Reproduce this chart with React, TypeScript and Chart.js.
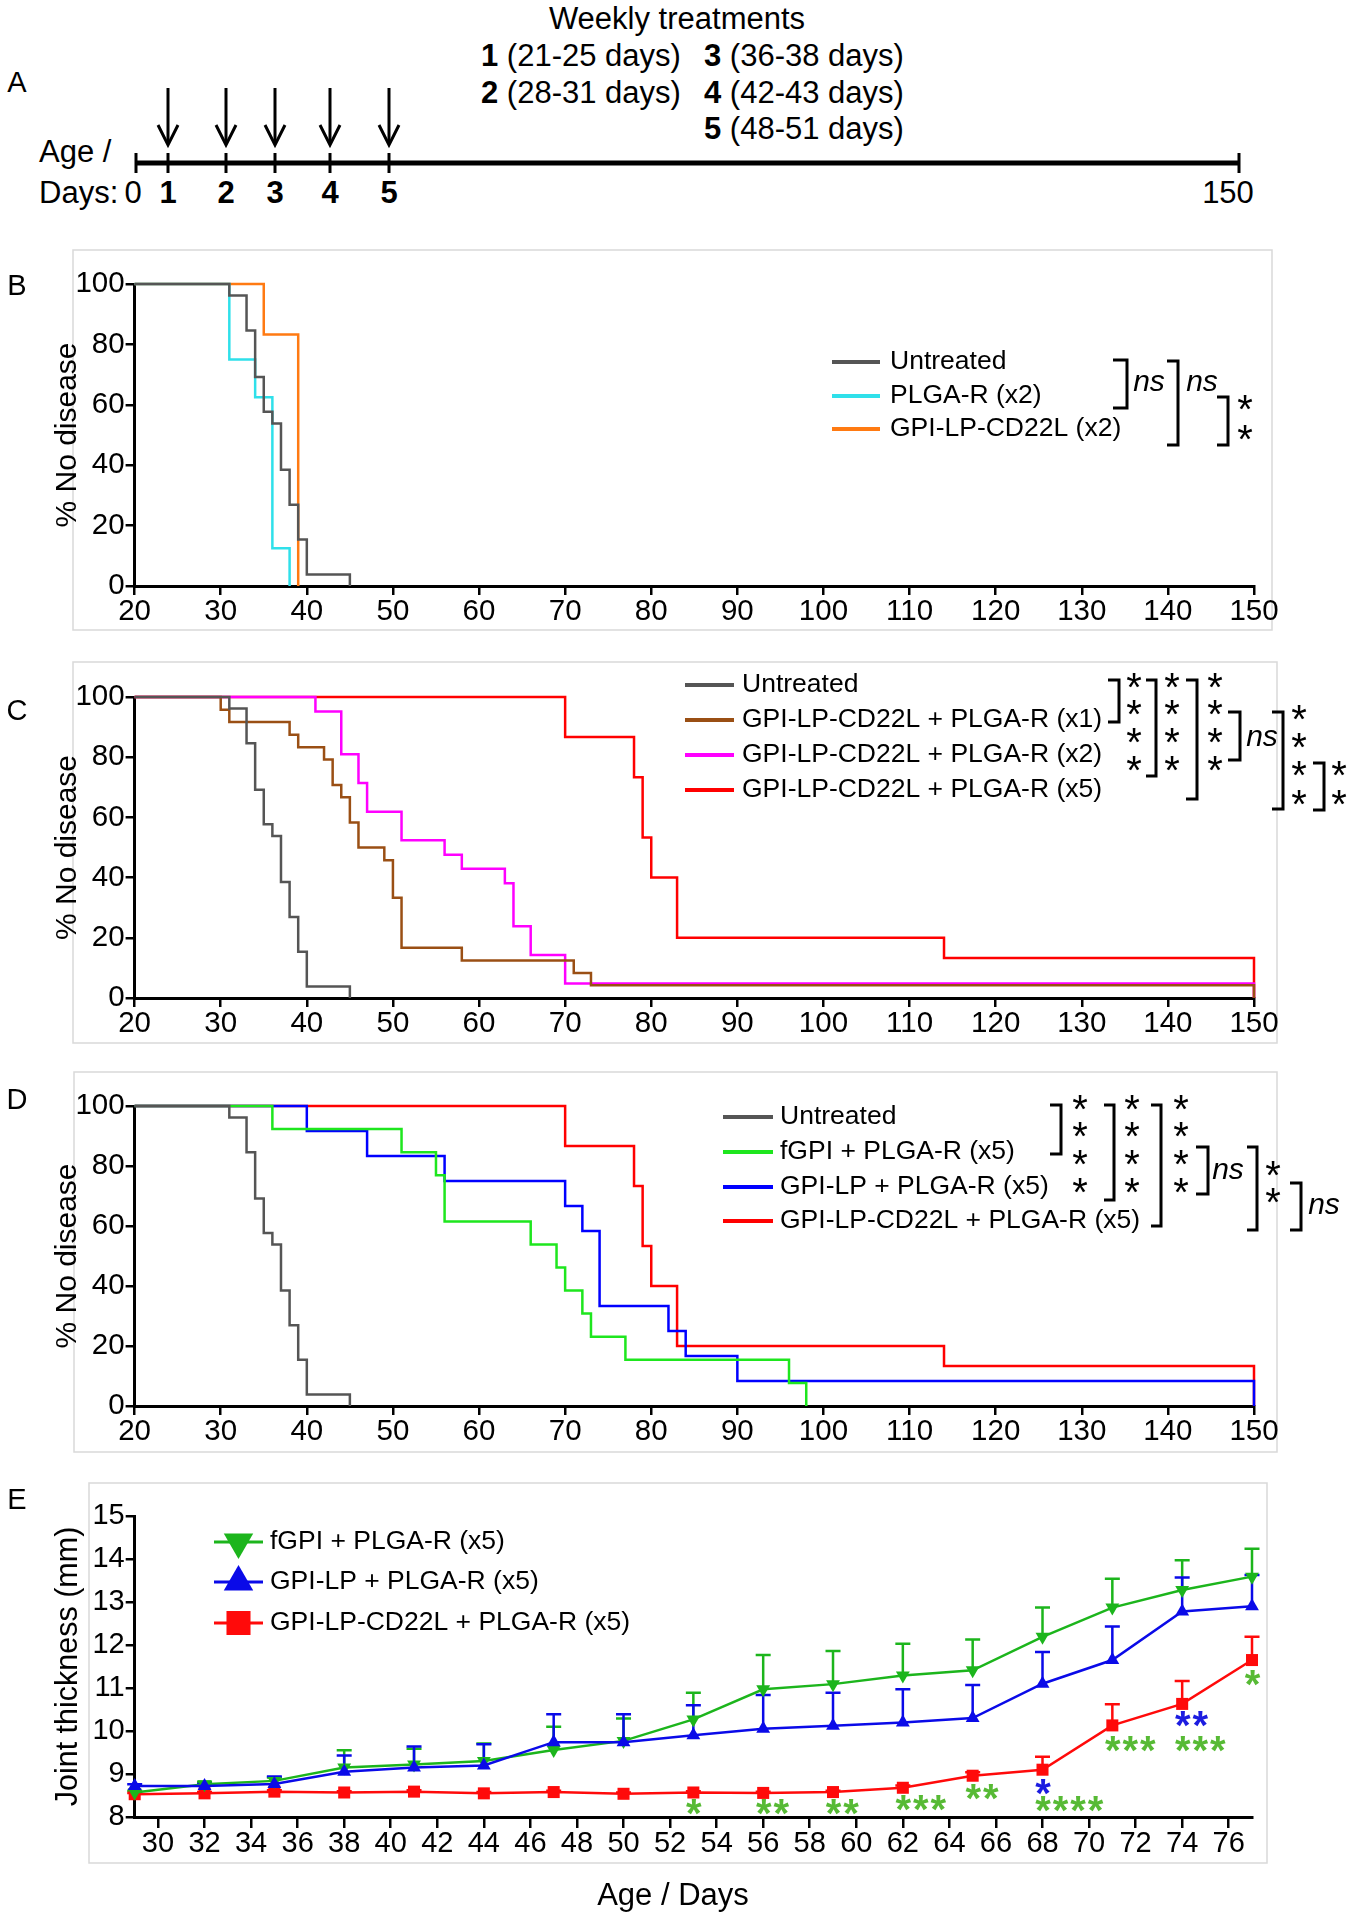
import React, { useEffect, useRef } from "react";
import { Chart, registerables } from "chart.js";

Chart.register(...registerables);

const FONT = "'Liberation Sans', Arial, Helvetica, sans-serif";
Chart.defaults.font.family = FONT;
Chart.defaults.color = "#000";

const PAGE_W = 1354;

// ---------------- Data: Kaplan–Meier steps (age in days, % no disease) ----------------
const untreatedDays = [20, 31, 33, 34, 35, 36, 37, 38, 39, 40, 45];
const untreatedPct = [100, 96.2, 84.6, 69.2, 57.7, 53.8, 38.5, 26.9, 15.4, 3.8, 0];

const plgaX2Days = [20, 31, 34, 36, 38];
const plgaX2Pct = [100, 75, 62.5, 12.5, 0];

const cd22X2Days = [20, 35, 39];
const cd22X2Pct = [100, 83.3, 0];

const comboX1Days = [20, 30, 31, 38, 39, 42, 43, 44, 45, 46, 49, 50, 51, 58, 71, 73, 150];
const comboX1Pct = [100, 95.8, 91.7, 87.5, 83.3, 79.2, 70.8, 66.7, 58.3, 50, 45.8, 33.3, 16.7, 12.5, 8.3, 4.2, 0];

const comboX2Days = [20, 41, 44, 46, 47, 51, 56, 58, 63, 64, 66, 70, 150];
const comboX2Pct = [100, 95.2, 81.0, 71.4, 61.9, 52.4, 47.6, 42.9, 38.1, 23.8, 14.3, 4.8, 0];

const comboX5Days = [20, 70, 78, 79, 80, 83, 114, 150];
const comboX5Pct = [100, 86.7, 73.3, 53.3, 40, 20, 13.3, 0];

const fgpiDays = [20, 36, 51, 55, 56, 66, 69, 70, 72, 73, 77, 96, 98];
const fgpiPct = [100, 92.3, 84.6, 76.9, 61.5, 53.8, 46.2, 38.5, 30.8, 23.1, 15.4, 7.7, 0];

const gpilpDays = [20, 40, 47, 56, 70, 72, 74, 82, 84, 90, 150];
const gpilpPct = [100, 91.7, 83.3, 75, 66.7, 58.3, 33.3, 25, 16.7, 8.3, 0];

// ---------------- Data: panel E joint thickness (mm) ----------------
const eDays = [29, 32, 35, 38, 41, 44, 47, 50, 53, 56, 59, 62, 65, 68, 71, 74, 77];
const eFgpi = [8.57, 8.76, 8.84, 9.15, 9.22, 9.3, 9.56, 9.77, 10.27, 10.97, 11.09, 11.29, 11.41, 12.19, 12.87, 13.28, 13.59];
const eFgpiErr = [0.04, 0.06, 0.08, 0.4, 0.37, 0.41, 0.54, 0.52, 0.62, 0.8, 0.77, 0.74, 0.72, 0.68, 0.67, 0.69, 0.65];
const eGpilp = [8.72, 8.72, 8.77, 9.05, 9.15, 9.2, 9.74, 9.74, 9.9, 10.05, 10.12, 10.2, 10.3, 11.1, 11.65, 12.78, 12.9];
const eGpilpErr = [0.04, 0.05, 0.17, 0.38, 0.49, 0.49, 0.65, 0.65, 0.7, 0.79, 0.77, 0.77, 0.77, 0.74, 0.78, 0.79, 0.73];
const eCd22 = [8.53, 8.55, 8.59, 8.57, 8.59, 8.55, 8.58, 8.54, 8.57, 8.56, 8.58, 8.68, 8.96, 9.1, 10.13, 10.63, 11.65];
const eCd22Err = [0.03, 0.03, 0.03, 0.03, 0.03, 0.03, 0.03, 0.03, 0.03, 0.03, 0.03, 0.05, 0.08, 0.3, 0.49, 0.53, 0.54];
const eXTicks = [30, 32, 34, 36, 38, 40, 42, 44, 46, 48, 50, 52, 54, 56, 58, 60, 62, 64, 66, 68, 70, 72, 74, 76];

// significance marks in panel E (day, level in mm, number of stars, group)
const eStarDays = [53, 56, 59, 62, 65, 68, 71, 74, 77, 68, 74];
const eStarLevel = [8.23, 8.23, 8.23, 8.33, 8.58, 8.31, 9.69, 9.69, 11.24, 8.7, 10.27];
const eStarCount = [1, 2, 2, 3, 2, 4, 3, 3, 1, 1, 2];
const eStarGroup = ["g", "g", "g", "g", "g", "g", "g", "g", "g", "b", "b"];

// Panel A schematic
const timelineLabels = ["0", "1", "2", "3", "4", "5", "150"];
const treatmentNums = ["1", "2", "3", "4", "5"];
const treatmentRanges = ["(21-25 days)", "(28-31 days)", "(36-38 days)", "(42-43 days)", "(48-51 days)"];

// ---------------- Styles ----------------
const GRAY = "#555555";
const CYAN = "#2fe0ea";
const ORANGE = "#ff7a12";
const BROWN = "#9a4f14";
const MAGENTA = "#ff00ff";
const RED = "#ff0000";
const LIME = "#1ee61e";
const BLUE = "#0000ff";
const E_GREEN = "#1cb51c";
const E_BLUE = "#0a0ae8";
const E_RED = "#ff0a0a";
const STAR_GREEN = "#57ba35";
const STAR_BLUE = "#1c1ce0";
const BOX_COLOR = "#d9d9d9";

const TICK_SIZE = 29.5;
const TITLE_SIZE = 30;
const LEGEND_SIZE = 26.5;
const A_SIZE = 31;

type Pt = [number, number];
type Bracket = [number, number, number, number]; // vertical x, arm end x, top y, bottom y

interface Decor {
  canvasTop: number;
  box: [number, number, number, number];
  letter: string;
  letterPos: Pt;
  legend?: { x1: number; x2: number; textX: number; rows: number[]; fontSize: number; lineWidth: number; markerR?: number };
  brackets: Bracket[];
  stars: Pt[];
  ns: Pt[];
}

function drawMarker(ctx: any, style: string, rotDeg: number, x: number, y: number, r: number, color: string) {
  ctx.fillStyle = color;
  ctx.beginPath();
  if (style === "rect") {
    const s = r * Math.SQRT1_2;
    ctx.rect(x - s, y - s, 2 * s, 2 * s);
  } else {
    let rad = (rotDeg * Math.PI) / 180;
    for (let k = 0; k < 3; k++) {
      const px = x + Math.sin(rad) * r;
      const py = y - Math.cos(rad) * r;
      if (k === 0) ctx.moveTo(px, py);
      else ctx.lineTo(px, py);
      rad += (2 * Math.PI) / 3;
    }
    ctx.closePath();
  }
  ctx.fill();
}

function fillCentered(ctx: any, text: string, x: number, yc: number) {
  const m = ctx.measureText(text);
  const off = (m.actualBoundingBoxAscent - m.actualBoundingBoxDescent) / 2;
  ctx.fillText(text, x, yc + off);
}

function makeDecor(d: Decor) {
  return {
    id: "decor",
    beforeDraw(chart: any) {
      const ctx = chart.ctx;
      ctx.save();
      ctx.translate(0, -d.canvasTop);
      ctx.strokeStyle = BOX_COLOR;
      ctx.lineWidth = 1.5;
      const [x1, y1, x2, y2] = d.box;
      ctx.strokeRect(x1, y1, x2 - x1, y2 - y1);
      ctx.restore();
    },
    afterDraw(chart: any) {
      const ctx = chart.ctx;
      ctx.save();
      ctx.translate(0, -d.canvasTop);
      ctx.fillStyle = "#000";
      ctx.font = `29px ${FONT}`;
      ctx.textAlign = "center";
      ctx.textBaseline = "alphabetic";
      fillCentered(ctx, d.letter, d.letterPos[0], d.letterPos[1]);
      if (d.legend) {
        const L = d.legend;
        chart.data.datasets.forEach((ds: any, i: number) => {
          const y = L.rows[i];
          ctx.strokeStyle = ds.borderColor;
          ctx.lineWidth = L.lineWidth;
          ctx.lineCap = "butt";
          ctx.beginPath();
          ctx.moveTo(L.x1, y);
          ctx.lineTo(L.x2, y);
          ctx.stroke();
          if (L.markerR) drawMarker(ctx, ds.pointStyle, ds.pointRotation || 0, (L.x1 + L.x2) / 2, y, L.markerR, ds.backgroundColor);
          ctx.fillStyle = "#000";
          ctx.font = `${L.fontSize}px ${FONT}`;
          ctx.textAlign = "left";
          ctx.textBaseline = "middle";
          ctx.fillText(ds.label, L.textX, y);
        });
      }
      ctx.strokeStyle = "#000";
      ctx.lineWidth = 3;
      ctx.lineJoin = "miter";
      ctx.lineCap = "butt";
      d.brackets.forEach(([x, ax, yt, yb]) => {
        ctx.beginPath();
        ctx.moveTo(ax, yt);
        ctx.lineTo(x, yt);
        ctx.lineTo(x, yb);
        ctx.lineTo(ax, yb);
        ctx.stroke();
      });
      ctx.fillStyle = "#000";
      ctx.textAlign = "center";
      ctx.textBaseline = "alphabetic";
      ctx.font = `40px ${FONT}`;
      d.stars.forEach(([x, y]) => fillCentered(ctx, "*", x, y));
      ctx.font = `italic 30px ${FONT}`;
      d.ns.forEach(([x, y]) => fillCentered(ctx, "ns", x, y));
      ctx.restore();
    },
  };
}

interface Geo {
  canvasTop: number;
  canvasHeight: number;
  plotLeft: number;
  plotRight: number;
  plotTop: number;
  plotBottom: number;
}

function axisLook(tickLen: number, size: number, pad: number) {
  return {
    ticks: { font: { size, family: FONT }, color: "#000", padding: pad, maxRotation: 0, autoSkip: false },
    grid: { display: true, drawOnChartArea: false, drawTicks: true, tickLength: tickLen, color: "#000", lineWidth: 2.5 },
    border: { display: true, color: "#000", width: 3 },
  };
}

interface Series {
  label: string;
  color: string;
  days: number[];
  pct: number[];
}

function survivalConfig(series: Series[], g: Geo, decor: Decor) {
  const xLook = axisLook(9, TICK_SIZE, -1);
  const yLook = axisLook(9, TICK_SIZE, 1);
  return {
    type: "line",
    data: {
      datasets: series.map((s) => ({
        label: s.label,
        data: s.days.map((d, i) => ({ x: d, y: s.pct[i] })),
        borderColor: s.color,
        backgroundColor: s.color,
        borderWidth: 2.5,
        pointRadius: 0,
        stepped: "before",
        fill: false,
        clip: false,
      })),
    },
    options: {
      responsive: false,
      animation: false,
      events: [],
      layout: { padding: { top: g.plotTop - g.canvasTop, bottom: 0, left: 0, right: PAGE_W - g.plotRight } },
      plugins: { legend: { display: false }, tooltip: { enabled: false } },
      scales: {
        x: {
          type: "linear",
          min: 20,
          max: 150,
          ...xLook,
          ticks: { ...xLook.ticks, stepSize: 10 },
          afterFit: (s: any) => {
            s.height = g.canvasHeight - (g.plotBottom - g.canvasTop);
          },
        },
        y: {
          type: "linear",
          min: 0,
          max: 100,
          ...yLook,
          ticks: { ...yLook.ticks, stepSize: 20 },
          title: { display: true, text: "% No disease", font: { size: TITLE_SIZE, family: FONT }, color: "#000", padding: { top: 50, bottom: 0 } },
          afterFit: (s: any) => {
            s.width = g.plotLeft;
          },
        },
      },
    },
    plugins: [makeDecor(decor)],
  };
}

// ---------------- Panel configs ----------------
const geoB: Geo = { canvasTop: 240, canvasHeight: 400, plotLeft: 134.6, plotRight: 1254, plotTop: 284, plotBottom: 586 };
const geoC: Geo = { canvasTop: 650, canvasHeight: 410, plotLeft: 134.6, plotRight: 1254, plotTop: 697, plotBottom: 998 };
const geoD: Geo = { canvasTop: 1060, canvasHeight: 405, plotLeft: 134.6, plotRight: 1254, plotTop: 1106, plotBottom: 1406 };
const geoE: Geo = { canvasTop: 1470, canvasHeight: 450, plotLeft: 134.7, plotRight: 1252, plotTop: 1516, plotBottom: 1817 };

function configB() {
  return survivalConfig(
    [
      { label: "Untreated", color: GRAY, days: untreatedDays, pct: untreatedPct },
      { label: "PLGA-R (x2)", color: CYAN, days: plgaX2Days, pct: plgaX2Pct },
      { label: "GPI-LP-CD22L (x2)", color: ORANGE, days: cd22X2Days, pct: cd22X2Pct },
    ],
    geoB,
    {
      canvasTop: geoB.canvasTop,
      box: [73, 250, 1272, 630],
      letter: "B",
      letterPos: [17, 285],
      legend: { x1: 832, x2: 880, textX: 890, rows: [362, 396, 429], fontSize: LEGEND_SIZE, lineWidth: 4 },
      brackets: [
        [1127, 1113, 360, 408],
        [1178, 1167, 361, 445],
        [1228, 1217, 397, 445],
      ],
      stars: [
        [1245, 402],
        [1245, 432],
      ],
      ns: [
        [1149, 383],
        [1202, 383],
      ],
    }
  );
}

function configC() {
  const col = (x: number, ys: number[]): Pt[] => ys.map((y) => [x, y] as Pt);
  const rows4 = [680, 707, 735, 763];
  return survivalConfig(
    [
      { label: "Untreated", color: GRAY, days: untreatedDays, pct: untreatedPct },
      { label: "GPI-LP-CD22L + PLGA-R (x1)", color: BROWN, days: comboX1Days, pct: comboX1Pct },
      { label: "GPI-LP-CD22L + PLGA-R (x2)", color: MAGENTA, days: comboX2Days, pct: comboX2Pct },
      { label: "GPI-LP-CD22L + PLGA-R (x5)", color: RED, days: comboX5Days, pct: comboX5Pct },
    ],
    geoC,
    {
      canvasTop: geoC.canvasTop,
      box: [73, 662, 1277, 1043],
      letter: "C",
      letterPos: [17, 710],
      legend: { x1: 685, x2: 734, textX: 742, rows: [685, 720, 755, 790], fontSize: LEGEND_SIZE, lineWidth: 4 },
      brackets: [
        [1119, 1108, 680, 722],
        [1156, 1146, 680, 776],
        [1197, 1186, 680, 799],
        [1240, 1228, 712, 760],
        [1283, 1272, 712, 809],
        [1324, 1313, 763, 810],
      ],
      stars: [
        ...col(1134, rows4),
        ...col(1172, rows4),
        ...col(1215, rows4),
        ...col(1299, [712, 740, 768, 797]),
        ...col(1339, [768, 797]),
      ],
      ns: [[1262, 738]],
    }
  );
}

function configD() {
  const col = (x: number, ys: number[]): Pt[] => ys.map((y) => [x, y] as Pt);
  const rows4 = [1102, 1129, 1157, 1185];
  return survivalConfig(
    [
      { label: "Untreated", color: GRAY, days: untreatedDays, pct: untreatedPct },
      { label: "fGPI + PLGA-R (x5)", color: LIME, days: fgpiDays, pct: fgpiPct },
      { label: "GPI-LP + PLGA-R (x5)", color: BLUE, days: gpilpDays, pct: gpilpPct },
      { label: "GPI-LP-CD22L + PLGA-R (x5)", color: RED, days: comboX5Days, pct: comboX5Pct },
    ],
    geoD,
    {
      canvasTop: geoD.canvasTop,
      box: [74, 1072, 1277, 1452],
      letter: "D",
      letterPos: [17, 1099],
      legend: { x1: 723, x2: 773, textX: 780, rows: [1117, 1152, 1187, 1221], fontSize: LEGEND_SIZE, lineWidth: 4 },
      brackets: [
        [1061, 1050, 1105, 1154],
        [1114, 1104, 1105, 1200],
        [1161, 1151, 1105, 1226],
        [1208, 1196, 1147, 1194],
        [1257, 1247, 1147, 1230],
        [1301, 1290, 1183, 1230],
      ],
      stars: [...col(1080, rows4), ...col(1132, rows4), ...col(1181, rows4), ...col(1273, [1168, 1195])],
      ns: [
        [1228, 1171],
        [1324, 1206],
      ],
    }
  );
}

function configE() {
  const g = geoE;
  const series = [
    { label: "fGPI + PLGA-R (x5)", color: E_GREEN, values: eFgpi, errs: eFgpiErr, style: "triangle", rot: 180, r: 8, order: 1 },
    { label: "GPI-LP + PLGA-R (x5)", color: E_BLUE, values: eGpilp, errs: eGpilpErr, style: "triangle", rot: 0, r: 8, order: 0 },
    { label: "GPI-LP-CD22L + PLGA-R (x5)", color: E_RED, values: eCd22, errs: eCd22Err, style: "rect", rot: 0, r: 8.5, order: 2 },
  ];
  const errPlugin = {
    id: "errbars",
    beforeDatasetsDraw(chart: any) {
      const ctx = chart.ctx;
      const ys = chart.scales.y;
      ctx.save();
      series.forEach((s, i) => {
        const meta = chart.getDatasetMeta(i);
        ctx.strokeStyle = s.color;
        ctx.lineWidth = 2.5;
        meta.data.forEach((pt: any, j: number) => {
          const yTop = ys.getPixelForValue(s.values[j] + s.errs[j]);
          ctx.beginPath();
          ctx.moveTo(pt.x, pt.y);
          ctx.lineTo(pt.x, yTop);
          ctx.moveTo(pt.x - 7.5, yTop);
          ctx.lineTo(pt.x + 7.5, yTop);
          ctx.stroke();
        });
      });
      ctx.restore();
    },
    afterDatasetsDraw(chart: any) {
      const ctx = chart.ctx;
      const xs = chart.scales.x;
      const ys = chart.scales.y;
      ctx.save();
      ctx.font = `bold 40px ${FONT}`;
      ctx.textAlign = "center";
      ctx.textBaseline = "alphabetic";
      eStarDays.forEach((d, i) => {
        ctx.fillStyle = eStarGroup[i] === "g" ? STAR_GREEN : STAR_BLUE;
        const x0 = xs.getPixelForValue(d) - 8;
        const yc = ys.getPixelForValue(eStarLevel[i]);
        for (let k = 0; k < eStarCount[i]; k++) fillCentered(ctx, "*", x0 + 8.5 + 17.5 * k, yc);
      });
      ctx.restore();
    },
    afterDraw(chart: any) {
      const ctx = chart.ctx;
      ctx.save();
      ctx.fillStyle = "#000";
      ctx.font = `31px ${FONT}`;
      ctx.textAlign = "center";
      ctx.textBaseline = "alphabetic";
      fillCentered(ctx, "Age / Days", 673, 1897 - g.canvasTop);
      ctx.restore();
    },
  };
  const xLook = axisLook(11, 29, -1);
  const yLook = axisLook(9, 29, 1);
  return {
    type: "line",
    data: {
      datasets: series.map((s) => ({
        label: s.label,
        data: eDays.map((d, i) => ({ x: d, y: s.values[i] })),
        borderColor: s.color,
        backgroundColor: s.color,
        borderWidth: 2.5,
        pointStyle: s.style,
        pointRotation: s.rot,
        pointRadius: s.r,
        pointBorderWidth: 0,
        fill: false,
        clip: false,
        order: s.order,
      })),
    },
    options: {
      responsive: false,
      animation: false,
      events: [],
      layout: { padding: { top: g.plotTop - g.canvasTop, bottom: 0, left: 0, right: PAGE_W - g.plotRight } },
      plugins: { legend: { display: false }, tooltip: { enabled: false } },
      scales: {
        x: {
          type: "linear",
          min: 29,
          max: 77,
          ...xLook,
          afterBuildTicks: (sc: any) => {
            sc.ticks = eXTicks.map((v) => ({ value: v }));
          },
          afterFit: (s: any) => {
            s.height = g.canvasHeight - (g.plotBottom - g.canvasTop);
          },
        },
        y: {
          type: "linear",
          min: 8,
          max: 15,
          ...yLook,
          ticks: { ...yLook.ticks, stepSize: 1 },
          title: { display: true, text: "Joint thickness (mm)", font: { size: 30.5, family: FONT }, color: "#000", padding: { top: 50, bottom: 0 } },
          afterFit: (s: any) => {
            s.width = g.plotLeft;
          },
        },
      },
    },
    plugins: [
      makeDecor({
        canvasTop: g.canvasTop,
        box: [89, 1483, 1267, 1863],
        letter: "E",
        letterPos: [17, 1499],
        legend: { x1: 214, x2: 263, textX: 270, rows: [1542, 1582, 1623], fontSize: LEGEND_SIZE, lineWidth: 3, markerR: 17 },
        brackets: [],
        stars: [],
        ns: [],
      }),
      errPlugin,
    ],
  };
}

function ChartCanvas({ make, geo }: { make: () => any; geo: Geo }) {
  const ref = useRef<HTMLCanvasElement | null>(null);
  useEffect(() => {
    if (!ref.current) return;
    const chart = new Chart(ref.current, make());
    return () => chart.destroy();
  }, []);
  return (
    <canvas
      ref={ref}
      width={PAGE_W}
      height={geo.canvasHeight}
      style={{ position: "absolute", left: 0, top: geo.canvasTop, width: PAGE_W, height: geo.canvasHeight }}
    />
  );
}

function PanelA() {
  const markX = [136, 168, 226, 275, 330, 389, 1239];
  const labelX = [133, 168, 226, 275, 330, 389, 1228];
  const arrowX = markX.slice(1, 6);
  const textPos: Pt[] = [
    [481, 55],
    [481, 92],
    [704, 55],
    [704, 92],
    [704, 128],
  ];
  return (
    <svg width={PAGE_W} height={232} style={{ position: "absolute", left: 0, top: 0 }} fontFamily={FONT}>
      <text x={17} y={82} fontSize={29} textAnchor="middle" dominantBaseline="central">
        A
      </text>
      <text x={677} y={18} fontSize={A_SIZE} textAnchor="middle" dominantBaseline="central">
        Weekly treatments
      </text>
      {treatmentNums.map((n, i) => (
        <text key={n} x={textPos[i][0]} y={textPos[i][1]} fontSize={A_SIZE} dominantBaseline="central">
          <tspan fontWeight="bold">{n}</tspan>
          <tspan>{" " + treatmentRanges[i]}</tspan>
        </text>
      ))}
      <line x1={136} y1={163} x2={1239} y2={163} stroke="#000" strokeWidth={5} />
      {markX.map((x, i) => (
        <line key={"m" + i} x1={x} x2={x} y1={153} y2={173} stroke="#000" strokeWidth={3} />
      ))}
      {arrowX.map((x, i) => (
        <g key={"a" + i}>
          <line x1={x} y1={88} x2={x} y2={142} stroke="#000" strokeWidth={3} />
          <polyline points={`${x - 10},${125} ${x},${145} ${x + 10},${125}`} fill="none" stroke="#000" strokeWidth={3} />
        </g>
      ))}
      <text x={39} y={151} fontSize={A_SIZE} dominantBaseline="central">
        Age /
      </text>
      <text x={39} y={192} fontSize={A_SIZE} dominantBaseline="central">
        Days:
      </text>
      {timelineLabels.map((l, i) => (
        <text
          key={"l" + i}
          x={labelX[i]}
          y={192}
          fontSize={A_SIZE}
          textAnchor="middle"
          dominantBaseline="central"
          fontWeight={i >= 1 && i <= 5 ? "bold" : "normal"}
        >
          {l}
        </text>
      ))}
    </svg>
  );
}

export default function App() {
  return (
    <div style={{ position: "absolute", left: 0, top: 0, width: PAGE_W, height: 1920, background: "#fff", fontFamily: FONT }}>
      <PanelA />
      <ChartCanvas make={configB} geo={geoB} />
      <ChartCanvas make={configC} geo={geoC} />
      <ChartCanvas make={configD} geo={geoD} />
      <ChartCanvas make={configE} geo={geoE} />
    </div>
  );
}
